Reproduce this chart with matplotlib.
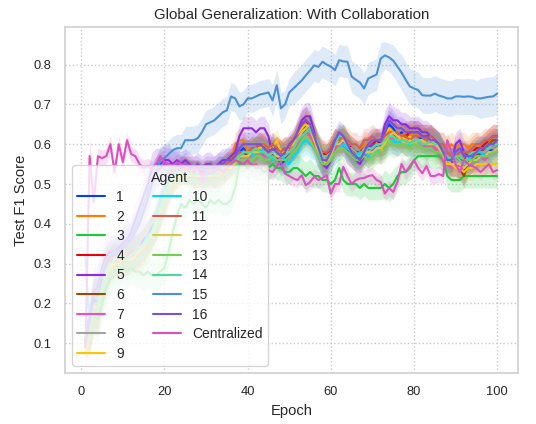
import numpy as np
import matplotlib
matplotlib.use("Agg")
import matplotlib.pyplot as plt
import seaborn as sns

epochs = list(range(1, 101))

agent_1 = [0.11, 0.15, 0.21, 0.20, 0.25, 0.29, 0.31, 0.31, 0.32, 0.32, 0.32, 0.33, 0.33, 0.34, 0.36, 0.37, 0.39, 0.41, 0.45, 0.48,
           0.51, 0.52, 0.53, 0.54, 0.54, 0.53, 0.53, 0.53, 0.52, 0.53, 0.53, 0.53, 0.54, 0.54, 0.55, 0.55, 0.56, 0.58, 0.59, 0.58,
           0.58, 0.59, 0.59, 0.58, 0.58, 0.60, 0.57, 0.55, 0.56, 0.58, 0.59, 0.61, 0.63, 0.65, 0.63, 0.60, 0.57, 0.55, 0.56, 0.58,
           0.60, 0.62, 0.61, 0.59, 0.58, 0.56, 0.57, 0.58, 0.59, 0.58, 0.60, 0.59, 0.62, 0.65, 0.64, 0.62, 0.63, 0.62, 0.61, 0.62,
           0.62, 0.61, 0.61, 0.62, 0.60, 0.59, 0.57, 0.56, 0.55, 0.55, 0.54, 0.53, 0.55, 0.57, 0.56, 0.58, 0.57, 0.58, 0.59, 0.60]
agent_2 = [0.09, 0.13, 0.19, 0.20, 0.25, 0.29, 0.31, 0.32, 0.31, 0.33, 0.32, 0.32, 0.33, 0.34, 0.35, 0.37, 0.38, 0.40, 0.43, 0.46,
           0.49, 0.51, 0.52, 0.53, 0.54, 0.54, 0.53, 0.52, 0.52, 0.53, 0.52, 0.52, 0.53, 0.54, 0.55, 0.56, 0.60, 0.61, 0.61, 0.58,
           0.59, 0.58, 0.59, 0.60, 0.58, 0.58, 0.59, 0.58, 0.57, 0.59, 0.60, 0.62, 0.64, 0.63, 0.64, 0.62, 0.59, 0.56, 0.57, 0.59,
           0.61, 0.60, 0.62, 0.60, 0.59, 0.58, 0.58, 0.60, 0.60, 0.61, 0.61, 0.60, 0.62, 0.64, 0.63, 0.62, 0.62, 0.63, 0.62, 0.63,
           0.62, 0.62, 0.61, 0.61, 0.61, 0.60, 0.60, 0.59, 0.60, 0.59, 0.60, 0.60, 0.59, 0.60, 0.60, 0.59, 0.60, 0.61, 0.61, 0.61]
agent_3 = [0.10, 0.12, 0.17, 0.16, 0.20, 0.24, 0.26, 0.27, 0.28, 0.29, 0.28, 0.29, 0.28, 0.28, 0.27, 0.28, 0.27, 0.27, 0.28, 0.29,
           0.33, 0.38, 0.42, 0.45, 0.44, 0.46, 0.45, 0.46, 0.45, 0.44, 0.46, 0.45, 0.46, 0.45, 0.45, 0.46, 0.49, 0.55, 0.55, 0.54,
           0.55, 0.54, 0.54, 0.53, 0.54, 0.55, 0.54, 0.54, 0.53, 0.53, 0.54, 0.54, 0.53, 0.52, 0.53, 0.52, 0.52, 0.51, 0.51, 0.50,
           0.51, 0.54, 0.51, 0.50, 0.50, 0.50, 0.49, 0.50, 0.49, 0.49, 0.49, 0.49, 0.50, 0.49, 0.50, 0.52, 0.53, 0.53, 0.54, 0.56,
           0.57, 0.57, 0.57, 0.57, 0.57, 0.57, 0.56, 0.52, 0.51, 0.51, 0.51, 0.52, 0.52, 0.52, 0.52, 0.52, 0.52, 0.52, 0.52, 0.52]
agent_4 = [0.10, 0.14, 0.20, 0.19, 0.24, 0.27, 0.30, 0.31, 0.30, 0.31, 0.31, 0.32, 0.32, 0.33, 0.34, 0.36, 0.38, 0.40, 0.44, 0.47,
           0.50, 0.52, 0.53, 0.53, 0.53, 0.53, 0.52, 0.53, 0.52, 0.52, 0.53, 0.52, 0.52, 0.53, 0.54, 0.55, 0.56, 0.57, 0.58, 0.58,
           0.58, 0.59, 0.60, 0.59, 0.58, 0.58, 0.59, 0.58, 0.59, 0.58, 0.60, 0.62, 0.65, 0.66, 0.64, 0.62, 0.59, 0.58, 0.57, 0.59,
           0.61, 0.60, 0.61, 0.60, 0.59, 0.58, 0.57, 0.59, 0.59, 0.60, 0.61, 0.60, 0.61, 0.63, 0.63, 0.62, 0.62, 0.62, 0.63, 0.63,
           0.63, 0.62, 0.62, 0.62, 0.61, 0.60, 0.58, 0.57, 0.56, 0.57, 0.56, 0.56, 0.57, 0.58, 0.59, 0.59, 0.60, 0.61, 0.62, 0.62]
agent_5 = [0.11, 0.17, 0.23, 0.24, 0.29, 0.32, 0.33, 0.33, 0.34, 0.35, 0.36, 0.38, 0.41, 0.44, 0.47, 0.50, 0.54, 0.55, 0.55, 0.56,
           0.56, 0.55, 0.56, 0.55, 0.56, 0.55, 0.54, 0.55, 0.54, 0.55, 0.55, 0.54, 0.55, 0.56, 0.56, 0.57, 0.58, 0.62, 0.64, 0.64,
           0.64, 0.63, 0.64, 0.64, 0.62, 0.57, 0.58, 0.58, 0.57, 0.59, 0.60, 0.63, 0.66, 0.67, 0.67, 0.63, 0.58, 0.55, 0.54, 0.56,
           0.59, 0.61, 0.60, 0.58, 0.57, 0.56, 0.55, 0.57, 0.59, 0.60, 0.60, 0.60, 0.65, 0.67, 0.66, 0.66, 0.65, 0.65, 0.64, 0.64,
           0.64, 0.63, 0.63, 0.62, 0.61, 0.60, 0.58, 0.55, 0.55, 0.60, 0.61, 0.58, 0.57, 0.56, 0.57, 0.58, 0.59, 0.59, 0.60, 0.60]
agent_6 = [0.10, 0.14, 0.19, 0.19, 0.24, 0.28, 0.30, 0.31, 0.31, 0.32, 0.31, 0.32, 0.32, 0.33, 0.35, 0.36, 0.38, 0.40, 0.43, 0.46,
           0.49, 0.51, 0.52, 0.53, 0.53, 0.53, 0.52, 0.52, 0.52, 0.52, 0.53, 0.52, 0.53, 0.53, 0.54, 0.55, 0.56, 0.57, 0.58, 0.57,
           0.58, 0.58, 0.58, 0.58, 0.57, 0.58, 0.58, 0.57, 0.58, 0.59, 0.59, 0.61, 0.62, 0.64, 0.63, 0.61, 0.59, 0.57, 0.57, 0.58,
           0.60, 0.61, 0.61, 0.60, 0.58, 0.58, 0.58, 0.59, 0.58, 0.59, 0.60, 0.60, 0.61, 0.63, 0.62, 0.62, 0.61, 0.62, 0.62, 0.61,
           0.61, 0.61, 0.61, 0.60, 0.60, 0.59, 0.58, 0.56, 0.55, 0.55, 0.54, 0.52, 0.55, 0.56, 0.57, 0.58, 0.59, 0.60, 0.61, 0.61]
agent_7 = [0.09, 0.13, 0.19, 0.19, 0.23, 0.27, 0.29, 0.30, 0.31, 0.31, 0.31, 0.32, 0.33, 0.33, 0.35, 0.36, 0.38, 0.40, 0.44, 0.47,
           0.50, 0.51, 0.52, 0.53, 0.53, 0.52, 0.52, 0.52, 0.51, 0.52, 0.52, 0.52, 0.53, 0.53, 0.54, 0.55, 0.55, 0.57, 0.57, 0.57,
           0.57, 0.58, 0.58, 0.57, 0.57, 0.58, 0.57, 0.56, 0.57, 0.58, 0.59, 0.60, 0.62, 0.63, 0.62, 0.60, 0.57, 0.55, 0.55, 0.57,
           0.59, 0.60, 0.60, 0.58, 0.57, 0.56, 0.56, 0.58, 0.57, 0.58, 0.59, 0.58, 0.60, 0.62, 0.61, 0.60, 0.61, 0.60, 0.60, 0.61,
           0.60, 0.60, 0.59, 0.60, 0.59, 0.58, 0.56, 0.55, 0.54, 0.55, 0.54, 0.54, 0.55, 0.56, 0.56, 0.57, 0.56, 0.57, 0.58, 0.58]
agent_8 = [0.10, 0.14, 0.20, 0.20, 0.24, 0.28, 0.30, 0.31, 0.32, 0.32, 0.32, 0.32, 0.33, 0.34, 0.35, 0.37, 0.38, 0.41, 0.44, 0.48,
           0.50, 0.52, 0.53, 0.53, 0.54, 0.53, 0.53, 0.53, 0.52, 0.53, 0.53, 0.53, 0.53, 0.54, 0.55, 0.55, 0.56, 0.58, 0.58, 0.58,
           0.59, 0.59, 0.59, 0.58, 0.58, 0.59, 0.58, 0.58, 0.58, 0.59, 0.60, 0.61, 0.63, 0.64, 0.63, 0.61, 0.59, 0.57, 0.56, 0.58,
           0.60, 0.61, 0.61, 0.59, 0.59, 0.58, 0.57, 0.59, 0.58, 0.59, 0.60, 0.59, 0.61, 0.63, 0.62, 0.61, 0.62, 0.61, 0.61, 0.62,
           0.61, 0.61, 0.60, 0.61, 0.60, 0.59, 0.57, 0.56, 0.56, 0.56, 0.55, 0.55, 0.56, 0.57, 0.58, 0.58, 0.58, 0.59, 0.59, 0.60]
agent_9 = [0.07, 0.12, 0.18, 0.18, 0.23, 0.27, 0.29, 0.30, 0.30, 0.31, 0.31, 0.31, 0.32, 0.33, 0.34, 0.36, 0.37, 0.40, 0.43, 0.46,
           0.49, 0.51, 0.52, 0.52, 0.53, 0.53, 0.52, 0.52, 0.52, 0.52, 0.52, 0.52, 0.52, 0.53, 0.54, 0.54, 0.55, 0.57, 0.57, 0.57,
           0.58, 0.59, 0.59, 0.60, 0.59, 0.59, 0.61, 0.58, 0.58, 0.59, 0.60, 0.62, 0.64, 0.65, 0.64, 0.61, 0.58, 0.56, 0.55, 0.57,
           0.60, 0.61, 0.62, 0.60, 0.58, 0.57, 0.56, 0.58, 0.58, 0.57, 0.59, 0.58, 0.61, 0.64, 0.63, 0.62, 0.62, 0.61, 0.62, 0.61,
           0.61, 0.60, 0.61, 0.62, 0.60, 0.59, 0.57, 0.55, 0.55, 0.54, 0.54, 0.53, 0.54, 0.54, 0.55, 0.55, 0.55, 0.55, 0.55, 0.55]
agent_10 = [0.32, 0.13, 0.19, 0.20, 0.24, 0.28, 0.30, 0.31, 0.31, 0.32, 0.32, 0.32, 0.33, 0.33, 0.35, 0.37, 0.38, 0.41, 0.45, 0.48,
            0.51, 0.52, 0.53, 0.53, 0.53, 0.53, 0.52, 0.53, 0.52, 0.52, 0.53, 0.52, 0.53, 0.54, 0.54, 0.55, 0.56, 0.57, 0.58, 0.58,
            0.57, 0.58, 0.58, 0.59, 0.58, 0.56, 0.58, 0.57, 0.56, 0.55, 0.57, 0.58, 0.60, 0.61, 0.60, 0.59, 0.57, 0.55, 0.55, 0.56,
            0.58, 0.59, 0.60, 0.59, 0.58, 0.57, 0.58, 0.58, 0.57, 0.58, 0.58, 0.59, 0.60, 0.61, 0.61, 0.60, 0.61, 0.60, 0.60, 0.60,
            0.60, 0.61, 0.60, 0.60, 0.60, 0.60, 0.58, 0.56, 0.57, 0.58, 0.57, 0.56, 0.56, 0.57, 0.58, 0.58, 0.57, 0.58, 0.58, 0.58]
agent_11 = [0.10, 0.14, 0.20, 0.20, 0.25, 0.28, 0.30, 0.31, 0.31, 0.32, 0.32, 0.33, 0.33, 0.34, 0.35, 0.36, 0.38, 0.40, 0.44, 0.47,
            0.50, 0.52, 0.53, 0.54, 0.54, 0.53, 0.53, 0.53, 0.53, 0.53, 0.53, 0.53, 0.54, 0.54, 0.55, 0.56, 0.57, 0.58, 0.58, 0.58,
            0.59, 0.59, 0.60, 0.60, 0.59, 0.60, 0.59, 0.58, 0.59, 0.59, 0.61, 0.62, 0.63, 0.64, 0.64, 0.62, 0.60, 0.58, 0.58, 0.59,
            0.61, 0.61, 0.62, 0.61, 0.60, 0.60, 0.59, 0.61, 0.61, 0.62, 0.61, 0.61, 0.62, 0.63, 0.63, 0.63, 0.62, 0.62, 0.61, 0.62,
            0.62, 0.62, 0.61, 0.62, 0.61, 0.60, 0.60, 0.58, 0.57, 0.57, 0.58, 0.58, 0.58, 0.59, 0.60, 0.60, 0.61, 0.61, 0.62, 0.62]
agent_12 = [0.10, 0.13, 0.19, 0.19, 0.24, 0.28, 0.29, 0.31, 0.31, 0.32, 0.31, 0.32, 0.33, 0.33, 0.35, 0.36, 0.37, 0.40, 0.43, 0.47,
            0.50, 0.51, 0.52, 0.53, 0.53, 0.52, 0.52, 0.52, 0.52, 0.52, 0.52, 0.52, 0.53, 0.53, 0.54, 0.55, 0.55, 0.57, 0.57, 0.57,
            0.58, 0.58, 0.58, 0.58, 0.57, 0.58, 0.57, 0.57, 0.58, 0.58, 0.59, 0.61, 0.63, 0.64, 0.65, 0.62, 0.59, 0.56, 0.56, 0.58,
            0.60, 0.60, 0.61, 0.60, 0.58, 0.57, 0.57, 0.58, 0.58, 0.58, 0.59, 0.59, 0.60, 0.62, 0.63, 0.62, 0.61, 0.60, 0.61, 0.60,
            0.61, 0.61, 0.60, 0.60, 0.60, 0.59, 0.58, 0.56, 0.55, 0.55, 0.55, 0.54, 0.55, 0.56, 0.56, 0.57, 0.57, 0.58, 0.58, 0.59]
agent_13 = [0.09, 0.13, 0.18, 0.18, 0.22, 0.26, 0.28, 0.29, 0.29, 0.30, 0.30, 0.30, 0.31, 0.31, 0.33, 0.34, 0.36, 0.38, 0.42, 0.45,
            0.48, 0.50, 0.51, 0.51, 0.52, 0.51, 0.51, 0.51, 0.50, 0.50, 0.51, 0.51, 0.51, 0.52, 0.53, 0.53, 0.54, 0.56, 0.56, 0.56,
            0.56, 0.57, 0.57, 0.56, 0.56, 0.57, 0.56, 0.56, 0.56, 0.57, 0.58, 0.59, 0.61, 0.62, 0.61, 0.59, 0.57, 0.55, 0.55, 0.56,
            0.58, 0.59, 0.59, 0.58, 0.57, 0.56, 0.56, 0.57, 0.56, 0.57, 0.58, 0.58, 0.59, 0.61, 0.60, 0.60, 0.60, 0.60, 0.59, 0.60,
            0.60, 0.59, 0.59, 0.59, 0.58, 0.58, 0.57, 0.56, 0.56, 0.57, 0.57, 0.56, 0.56, 0.56, 0.57, 0.57, 0.57, 0.57, 0.58, 0.58]
agent_14 = [0.10, 0.14, 0.20, 0.20, 0.24, 0.28, 0.30, 0.31, 0.31, 0.32, 0.31, 0.32, 0.33, 0.34, 0.35, 0.36, 0.38, 0.41, 0.44, 0.47,
            0.50, 0.52, 0.53, 0.53, 0.53, 0.53, 0.52, 0.53, 0.52, 0.52, 0.53, 0.52, 0.53, 0.54, 0.54, 0.55, 0.56, 0.57, 0.58, 0.58,
            0.58, 0.59, 0.58, 0.58, 0.57, 0.58, 0.58, 0.57, 0.57, 0.58, 0.59, 0.61, 0.62, 0.63, 0.64, 0.62, 0.60, 0.57, 0.57, 0.58,
            0.60, 0.62, 0.62, 0.60, 0.58, 0.57, 0.57, 0.58, 0.59, 0.59, 0.60, 0.60, 0.61, 0.62, 0.62, 0.61, 0.61, 0.61, 0.60, 0.61,
            0.61, 0.60, 0.60, 0.61, 0.60, 0.60, 0.58, 0.57, 0.56, 0.57, 0.56, 0.55, 0.57, 0.58, 0.58, 0.59, 0.59, 0.59, 0.60, 0.60]
agent_15 = [0.11, 0.16, 0.22, 0.23, 0.28, 0.31, 0.32, 0.33, 0.33, 0.34, 0.35, 0.37, 0.39, 0.42, 0.45, 0.48, 0.51, 0.53, 0.56, 0.565,
            0.575, 0.585, 0.59, 0.59, 0.61, 0.61, 0.61, 0.615, 0.63, 0.65, 0.655, 0.66, 0.67, 0.68, 0.685, 0.72, 0.715, 0.695, 0.70, 0.715,
            0.715, 0.72, 0.725, 0.727, 0.73, 0.71, 0.748, 0.69, 0.70, 0.73, 0.74, 0.75, 0.76, 0.773, 0.785, 0.798, 0.794, 0.807, 0.80, 0.795,
            0.786, 0.811, 0.808, 0.807, 0.77, 0.762, 0.755, 0.74, 0.765, 0.77, 0.775, 0.815, 0.823, 0.818, 0.81, 0.795, 0.78, 0.762, 0.745, 0.74,
            0.736, 0.723, 0.722, 0.722, 0.727, 0.722, 0.719, 0.715, 0.715, 0.72, 0.72, 0.719, 0.72, 0.719, 0.715, 0.715, 0.717, 0.719, 0.72, 0.727]
agent_16 = [0.10, 0.16, 0.22, 0.22, 0.27, 0.30, 0.32, 0.32, 0.33, 0.34, 0.35, 0.36, 0.38, 0.40, 0.43, 0.46, 0.50, 0.53, 0.54, 0.55,
            0.55, 0.55, 0.55, 0.54, 0.55, 0.54, 0.54, 0.54, 0.53, 0.54, 0.54, 0.54, 0.55, 0.55, 0.56, 0.56, 0.57, 0.59, 0.60, 0.60,
            0.60, 0.60, 0.60, 0.59, 0.58, 0.59, 0.58, 0.57, 0.58, 0.60, 0.61, 0.63, 0.65, 0.66, 0.65, 0.62, 0.59, 0.56, 0.56, 0.58,
            0.61, 0.63, 0.62, 0.60, 0.58, 0.57, 0.56, 0.58, 0.60, 0.61, 0.61, 0.61, 0.63, 0.66, 0.65, 0.64, 0.64, 0.63, 0.63, 0.63,
            0.63, 0.62, 0.62, 0.61, 0.61, 0.60, 0.58, 0.56, 0.56, 0.58, 0.59, 0.57, 0.57, 0.57, 0.58, 0.59, 0.59, 0.60, 0.60, 0.61]
centralized = [0.09, 0.57, 0.455, 0.57, 0.565, 0.57, 0.60, 0.53, 0.60, 0.555, 0.61, 0.575, 0.57, 0.55, 0.54, 0.545, 0.535, 0.55, 0.57, 0.555,
               0.55, 0.545, 0.555, 0.55, 0.545, 0.53, 0.54, 0.535, 0.52, 0.53, 0.525, 0.535, 0.54, 0.53, 0.54, 0.55, 0.56, 0.555, 0.55, 0.56,
               0.545, 0.55, 0.54, 0.545, 0.535, 0.53, 0.545, 0.556, 0.526, 0.52, 0.514, 0.51, 0.522, 0.497, 0.505, 0.518, 0.51, 0.515, 0.522, 0.476,
               0.50, 0.50, 0.543, 0.52, 0.50, 0.51, 0.514, 0.515, 0.52, 0.522, 0.51, 0.505, 0.476, 0.49, 0.48, 0.505, 0.55, 0.53, 0.545, 0.56,
               0.54, 0.527, 0.545, 0.52, 0.52, 0.525, 0.52, 0.61, 0.58, 0.55, 0.53, 0.56, 0.55, 0.545, 0.54, 0.53, 0.54, 0.55, 0.53, 0.535]

# spread across runs (one shared band width for agents 1-14 and 16)
agent_std = [0.03, 0.05, 0.06, 0.06, 0.05, 0.05, 0.04, 0.04, 0.04, 0.04, 0.04, 0.04, 0.04, 0.04, 0.04, 0.04, 0.04, 0.04, 0.04, 0.04,
             0.04, 0.035, 0.03, 0.03, 0.03, 0.03, 0.03, 0.03, 0.03, 0.03, 0.03, 0.03, 0.03, 0.03, 0.03, 0.03, 0.03, 0.03, 0.03, 0.03,
             0.03, 0.03, 0.03, 0.03, 0.03, 0.03, 0.03, 0.03, 0.03, 0.03, 0.03, 0.035, 0.035, 0.035, 0.035, 0.03, 0.03, 0.03, 0.03, 0.03,
             0.03, 0.03, 0.03, 0.03, 0.03, 0.03, 0.03, 0.03, 0.03, 0.03, 0.03, 0.03, 0.035, 0.035, 0.035, 0.03, 0.03, 0.03, 0.03, 0.03,
             0.03, 0.03, 0.03, 0.03, 0.03, 0.03, 0.03, 0.03, 0.03, 0.03, 0.03, 0.03, 0.03, 0.03, 0.03, 0.03, 0.03, 0.03, 0.03, 0.03]
agent_15_std = [0.04, 0.05, 0.05, 0.05, 0.05, 0.04, 0.04, 0.04, 0.04, 0.04, 0.04, 0.04, 0.04, 0.04, 0.04, 0.04, 0.04, 0.04, 0.035, 0.035,
                0.035, 0.035, 0.035, 0.035, 0.035, 0.035, 0.035, 0.035, 0.035, 0.035, 0.035, 0.035, 0.035, 0.035, 0.035, 0.035, 0.035, 0.035, 0.035, 0.035,
                0.035, 0.035, 0.035, 0.035, 0.035, 0.04, 0.04, 0.04, 0.035, 0.035, 0.04, 0.04, 0.04, 0.04, 0.04, 0.04, 0.04, 0.04, 0.04, 0.04,
                0.04, 0.04, 0.04, 0.04, 0.04, 0.04, 0.04, 0.04, 0.04, 0.04, 0.04, 0.04, 0.035, 0.035, 0.04, 0.04, 0.045, 0.045, 0.045, 0.045,
                0.045, 0.045, 0.045, 0.045, 0.045, 0.045, 0.045, 0.045, 0.045, 0.045, 0.045, 0.045, 0.045, 0.045, 0.045, 0.05, 0.05, 0.05, 0.05, 0.05]
centralized_std = [0.05, 0.05, 0.04, 0.02, 0.02, 0.02, 0.02, 0.02, 0.02, 0.02, 0.02, 0.02, 0.02, 0.02, 0.02, 0.02, 0.02, 0.02, 0.02, 0.02,
                   0.02, 0.02, 0.02, 0.02, 0.02, 0.02, 0.02, 0.02, 0.02, 0.02, 0.02, 0.02, 0.02, 0.02, 0.02, 0.02, 0.02, 0.02, 0.02, 0.02,
                   0.02, 0.02, 0.02, 0.02, 0.02, 0.02, 0.02, 0.02, 0.02, 0.02, 0.02, 0.02, 0.02, 0.02, 0.02, 0.02, 0.02, 0.02, 0.02, 0.02,
                   0.02, 0.02, 0.02, 0.02, 0.02, 0.02, 0.02, 0.02, 0.02, 0.02, 0.02, 0.02, 0.02, 0.02, 0.02, 0.02, 0.02, 0.02, 0.02, 0.02,
                   0.02, 0.02, 0.02, 0.02, 0.02, 0.02, 0.02, 0.02, 0.02, 0.02, 0.02, 0.02, 0.02, 0.02, 0.02, 0.02, 0.02, 0.02, 0.02, 0.02]

labels = [str(i) for i in range(1, 17)] + ["Centralized"]
colors = ["#023eff", "#ff7c00", "#1ac938", "#e8000b", "#8b2be2", "#9f4800", "#f14cc1", "#a3a3a3", "#ffc400", "#00d7ff",
          "#dc5a52", "#d8c944", "#72d050", "#4cd9a0", "#4a90d9", "#7b4fe0", "#dc50c0"]

series = [agent_1, agent_2, agent_3, agent_4, agent_5, agent_6, agent_7, agent_8, agent_9, agent_10,
          agent_11, agent_12, agent_13, agent_14, agent_15, agent_16, centralized]
spreads = [agent_std] * 14 + [agent_15_std, agent_std, centralized_std]

sns.set_theme(style="whitegrid")
plt.rcParams["font.family"] = ["Liberation Sans", "DejaVu Sans"]

fig = plt.figure(figsize=(5.36, 4.24), dpi=100)
ax = fig.add_axes([0.121, 0.120, 0.845, 0.816])

x = np.array(epochs)
for vals, sd, lab, col in zip(series, spreads, labels, colors):
    y = np.array(vals)
    s = np.array(sd)
    ax.fill_between(x, y - s, y + s, color=col, alpha=0.18, linewidth=0)
    ax.plot(x, y, color=col, lw=1.5, label=lab)

ax.set_ylim(0.025, 0.894)
ax.grid(True, linestyle=":", color="#c8c8c8", linewidth=1.0)
for sp in ax.spines.values():
    sp.set_color("#d0d0d0")
    sp.set_linewidth(1.2)

ax.set_title("Global Generalization: With Collaboration", fontsize=10.8)
ax.set_xlabel("Epoch", fontsize=10.6)
ax.set_ylabel("Test F1 Score", fontsize=10.6)
ax.tick_params(labelsize=9.3)
ax.legend(title="Agent", ncol=2, loc="lower left", fontsize=10, title_fontsize=10.2,
          handlelength=2.0, columnspacing=2.1, labelspacing=0.4)

fig.savefig("out.png", dpi=100)
